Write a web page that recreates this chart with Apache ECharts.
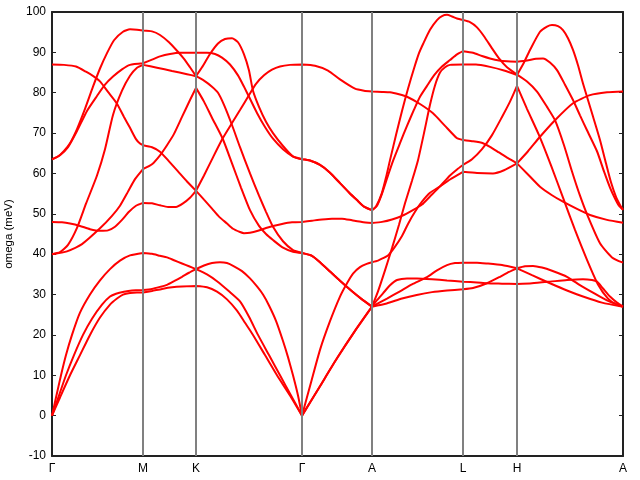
<!DOCTYPE html>
<html>
<head>
<meta charset="utf-8">
<script src="https://cdn.jsdelivr.net/npm/echarts@6/dist/echarts.min.js"></script>
<style>
html,body{margin:0;padding:0;background:#fff;}
#chart{width:640px;height:480px;}
</style>
</head>
<body>
<div id="chart"></div>
<script>
// high-symmetry points (path coordinate) and labels
const kTicks = [0, 91, 144, 250, 320, 411, 465, 571];
const kLabels = ['Γ', 'M', 'K', 'Γ', 'A', 'L', 'H', 'A'];
const yTicksMin = -10, yTicksMax = 100, yStep = 10;

// phonon bands: [k, omega (meV)]
const band1 = [[0,0],[8,4.5],[18,10],[28,15],[38,20],[48,24.3],[58,27.5],[65,29],[71,30],[78,30.4],[85,30.5],[91,30.5],
  [100,30.9],[110,31.4],[120,31.8],[130,32],[144,32.1],
  [155,31.8],[165,30.7],[175,28.8],[185,26],[193,23],[201,20],[213,15],[225,10],[238,5],[250,0],
  [268,7.3],[285,14.2],[303,21],[320,27],
  [334.7,27.8],[350,29],[364.7,29.9],[380,30.6],[395,31],[411,31.3],
  [421,31.6],[435,32.8],[448,34.4],[457,35.6],[465,36.5],
  [473,37],[481,37.1],[490,36.7],[500,35.9],[515,34.4],[530,32],[548,29.5],[560,28],[571,27]];

const band2 = [[0,0],[7,5],[14,10],[22,15],[31,20],[40,24],[50,27.5],[58,29.5],[64,30.2],[72,30.7],[80,31],[91,31.1],
  [100,31.4],[108,31.9],[115,32.4],[122,33.3],[130,34.4],[137,35.4],[144,36.3],
  [152,37.2],[160,37.8],[168,38],[175,37.8],[182,37],[190,35.8],[198,34],[205,32],[211,30],[217,27.3],[224,23.5],[231,18.5],[236,14.5],[241,10],[246,5],[250,0],
  [268,7.3],[285,14.2],[303,21],[320,27],
  [325,28.6],[331,30.3],[338,32.3],[345,33.6],[355,34],[365,34],[380,33.8],[395,33.5],[411,33.2],
  [425,33],[435,32.8],[450,32.7],[465,32.6],
  [480,32.8],[498,33.2],[515,33.6],[531,33.8],[540,33.6],[545,33.2],[551,31.5],[558,29.5],[565,28],[571,27]];

const band3 = [[0,0],[4,4.5],[9,10],[14,15],[20,20],[28,25.5],[38,30],[48,33.5],[58,36.3],[68,38.4],[78,39.7],[91,40.3],
  [100,40.1],[108,39.6],[115,39.2],[122,38.5],[130,37.7],[137,37],[144,36.3],
  [155,35],[165,33.3],[177,30.8],[188,28.3],[197,24.5],[206,20],[217,15],[228,10],[239,5],[250,0],
  [259,8.2],[268,16.3],[278,23.4],[288,29.5],[295,32.8],[301,35.2],[308,36.8],[314.7,37.6],[320,38],
  [326,38.4],[331,39],[336,39.7],[342,41.5],[350,44.5],[356,47.5],[363,50.5],[370,53],[378,55.2],[388,56.8],[398,58.5],[411,60.4],
  [425,60.1],[441,60],[452,60.8],[465,62.5],
  [476,65.5],[488,69.1],[503,73.2],[521,77.4],[538,79.4],[555,80.1],[571,80.3]];

const band4 = [[0,40],[15,40.7],[30,42.5],[48,46.4],[60,49.5],[68,52],[76,55.5],[83,58.6],[91,61.1],
  [100,62.3],[108,64.5],[115,67],[122,69.8],[130,74],[138,78.2],[144,81.2],
  [152,77.8],[160,73.8],[170.7,68.6],[180,62.5],[189,56.5],[198,50.9],[207,47],[214,45],[221,43.5],[231,41.6],[241,40.6],[250,40.3],
  [260,39.6],[268,38],[278,35.7],[288,33.4],[300,30.8],[310,28.8],[320,27],
  [335,29],[348,30.8],[360,32.5],[375,34.3],[385,36],[395,37.3],[403,37.8],[411,37.9],
  [425,37.9],[435,37.7],[450,37.3],[465,36.5],
  [480,34.8],[498,32.8],[515,31],[531,29.5],[550,28],[571,27]];

const band5 = [[0,40],[8,40.5],[16,42.3],[25,46.5],[34,52.5],[45,59.5],[53,66],[61,74.5],[70,80.5],[78,84.2],[85,86.2],[91,86.9],
  [105,86.2],[120,85.4],[135,84.6],[144,84.1],
  [150,86.3],[158,89.6],[166,92.2],[173,93.3],[180,93.5],[186,92.5],[192,89.5],[197,85.5],[201,80.5],[207,76.5],[214,72.8],[221,70],[231,66.8],[241,64.2],[250,63.5],
  [258,63.2],[268,62.1],[278,60.2],[288,57.6],[297,55.3],[305,53.4],[312,51.8],[320,50.9],
  [324,51.8],[329.7,55],[334,59],[338,63.3],[344,69.5],[350,75.5],[356,81],[362,86],[367,89.8],[371.3,92.2],[378,95.6],[385,98],[390,99],[395,99.3],[400,98.9],[405,98.4],[411,98],
  [418,97.5],[425,96.2],[432,94],[440,91],[447,88.5],[455,86.3],[465,84.5],
  [475,82.8],[485,80.3],[495,76.5],[503,73.2],[512,67],[520,60.5],[528,54.5],[536,49.3],[548,42.7],[560,39.2],[571,37.9]];

const band6 = [[0,48],[10,47.9],[18,47.6],[28,47],[38,46.2],[48,45.8],[56,45.9],[63,46.8],[70,48.5],[77,50.5],[84,52],[91,52.7],
  [100,52.6],[108,52.1],[116,51.7],[124,51.7],[131,52.6],[138,54],[144,55.7],
  [152,59.5],[160,63.5],[170.7,68.7],[180,72.5],[188,75.7],[196,79],[204,82.2],[212,84.3],[220,85.7],[228,86.5],[238,86.9],[250,87],
  [263,86.7],[276,85.5],[288,83.3],[303,81],[312,80.5],[320,80.3],
  [330,80.2],[338,80.1],[347,79.6],[355,79],[368,77.2],[381,74.9],[393,71.8],[404.7,68.8],[411,68.3],
  [420,68],[431,67.5],[438,66.6],[447,65.2],[456,63.8],[465,62.5],
  [475,60],[488,56.7],[500,54.6],[511,53],[525,51.2],[538,49.7],[555,48.5],[571,47.8]];

const band7 = [[0,63.5],[6,64.2],[12,65.6],[18,67.5],[25,71],[33,76],[41,81.5],[48,86],[55,89.8],[62,93],[71,95.1],[78,95.7],[85,95.6],[91,95.4],
  [100,95.2],[108,94.3],[117,92.5],[125,90.4],[132,88.4],[138,86.3],[144,84.1],
  [152,83],[160,81.5],[166,80],[172,77],[180,72],[188,66.5],[198,60],[207,54.5],[214,50.5],[221,46.8],[231,43.2],[241,41],[250,40.3],
  [260,39.6],[268,38],[278,35.7],[288,33.4],[300,30.8],[310,28.8],[320,27],
  [326,30.8],[333,36],[340,41.5],[347,47.3],[353,52.6],[360,58.2],[366,63.3],[372,70],[378,77],[383,81.8],[388,85],[393,86.3],[398,86.9],[411,87],
  [424,87],[438,86.4],[452,85.5],[465,84.4],
  [472,87.5],[478,90.6],[488,95.1],[495,96.4],[500,96.8],[506,96.5],[511,95.5],[516,93.5],[521,90.6],[526,86.8],[531,82.3],[541,74.1],[548,68.3],[554,62.5],[559,57.8],[564,54.2],[568,52.2],[571,51]];

const band8 = [[0,63.5],[8,64.5],[16,66.5],[25,70.5],[35,75.5],[45,79.2],[53,82],[61,84],[70,85.8],[78,86.9],[91,87.3],
  [100,88.2],[108,89],[118,89.6],[128,89.9],[144,89.9],
  [155,89.9],[163,89.6],[170,88.7],[178,87],[186,84.3],[192,81.5],[198,78.5],[205,75],[213,71.5],[221,68.6],[231,66],[241,64.2],[250,63.5],
  [258,63.2],[268,62.1],[278,60.2],[288,57.6],[297,55.3],[305,53.4],[312,51.8],[320,50.9],
  [325,52],[330,55],[336,59.5],[341.3,63.3],[348,67.5],[355,71.8],[362,75.8],[368,79],[375,81.7],[382,84.3],[390,86.5],[398,88.1],[405,89.5],[411,90.3],
  [421,89.9],[430,89.1],[438,88.5],[447,88],[455,87.8],[465,87.7],
  [475,88],[484,88.4],[491,88.5],[498,87.5],[505,85.6],[513,82],[521,78.2],[528,74.4],[535,70.7],[545,65.5],[552,60.5],[558,56.5],[563,53.8],[567,52],[571,51]];

const band9 = [[0,87],[12,86.9],[24,86.5],[34,85.2],[42,84],[48,82.8],[56,80.2],[64.7,77.4],[72,74],[78,71.3],[84,68.5],[88,67.4],[91,67],
  [100,66.5],[108,65.4],[117,63],[126,60.5],[135,58],[144,55.7],
  [152,53.5],[160,51.3],[167,49.3],[175,47.6],[181,46.3],[188,45.5],[192,45.2],[198,45.3],[206,45.8],[214,46.5],[221,47],[230,47.5],[240,47.9],[250,48],
  [260,48.3],[270,48.6],[280,48.8],[290,48.8],[300,48.4],[310,48],[320,47.7],
  [330,48],[340,48.6],[350,49.5],[360,50.8],[370,52.3],[378,54.3],[388,56.8],[398,59.5],[405,61],[411,62.1],
  [420,63.5],[430,66],[440,69.5],[450,74],[458,77.8],[465,81.7],
  [475,76],[487,69.5],[499,62],[511,54],[523,46],[535,38.6],[546,32.5],[556,29],[564,27.6],[571,27]];

const bands = [band1, band2, band3, band4, band5, band6, band7, band8, band9];

const innerTicks = kTicks.slice(1, -1);
function splitAtTicks(band) {
  const out = [];
  band.forEach((p, i) => {
    out.push(p);
    if (i > 0 && i < band.length - 1 && innerTicks.indexOf(p[0]) >= 0) {
      out.push([p[0], null]);
      out.push(p);
    }
  });
  return out;
}

const FONT = 'Liberation Sans';
const axisLineStyle = { color: '#222', width: 2 };

const series = [{
  type: 'line',
  data: [],
  silent: true,
  z: 1,
  markLine: {
    silent: true,
    symbol: ['none', 'none'],
    label: { show: false },
    lineStyle: { color: '#808080', width: 2, type: 'solid' },
    data: innerTicks.map(k => ({ xAxis: k })),
    animation: false
  }
}];
bands.forEach(b => {
  series.push({
    type: 'line',
    data: splitAtTicks(b),
    showSymbol: false,
    symbol: 'none',
    smooth: 0.2,
    connectNulls: false,
    z: 3,
    lineStyle: { color: '#ff0000', width: 2 },
    itemStyle: { color: '#ff0000' }
  });
});

const chart = echarts.init(document.getElementById('chart'), null, { renderer: 'canvas' });
chart.setOption({
  animation: false,
  backgroundColor: '#fff',
  grid: { left: 52, right: 17, top: 12, bottom: 24, containLabel: false, outerBoundsMode: 'none' },
  xAxis: [{
    type: 'value', min: kTicks[0], max: kTicks[kTicks.length - 1], position: 'bottom',
    axisLine: { show: true, onZero: false, lineStyle: axisLineStyle },
    axisTick: { show: true, inside: true, length: 4, customValues: kTicks, lineStyle: { color: '#222', width: 1 } },
    axisLabel: {
      show: true, customValues: kTicks, margin: 7, color: '#000', fontFamily: FONT, fontSize: 12,
      showMinLabel: true, showMaxLabel: true, hideOverlap: false,
      formatter: v => { const i = kTicks.indexOf(v); return i >= 0 ? kLabels[i] : ''; }
    },
    splitLine: { show: false }
  }, {
    type: 'value', min: kTicks[0], max: kTicks[kTicks.length - 1], position: 'top',
    axisLine: { show: true, onZero: false, lineStyle: axisLineStyle },
    axisTick: { show: true, inside: true, length: 4, customValues: kTicks, lineStyle: { color: '#222', width: 1 } },
    axisLabel: { show: false },
    splitLine: { show: false }
  }],
  yAxis: [{
    type: 'value', min: yTicksMin, max: yTicksMax, interval: yStep, position: 'left',
    name: 'omega (meV)', nameLocation: 'middle', nameGap: 31, nameRotate: 90,
    nameTextStyle: { color: '#000', fontFamily: FONT, fontSize: 11.5 },
    axisLine: { show: true, onZero: false, lineStyle: axisLineStyle },
    axisTick: { show: true, inside: true, length: 4, lineStyle: { color: '#222', width: 1 } },
    axisLabel: { color: '#000', fontFamily: FONT, fontSize: 12, margin: 6, showMinLabel: true, showMaxLabel: true },
    splitLine: { show: false }
  }, {
    type: 'value', min: yTicksMin, max: yTicksMax, interval: yStep, position: 'right',
    axisLine: { show: true, onZero: false, lineStyle: axisLineStyle },
    axisTick: { show: true, inside: true, length: 4, lineStyle: { color: '#222', width: 1 } },
    axisLabel: { show: false },
    splitLine: { show: false }
  }],
  series: series
});
</script>
</body>
</html>
